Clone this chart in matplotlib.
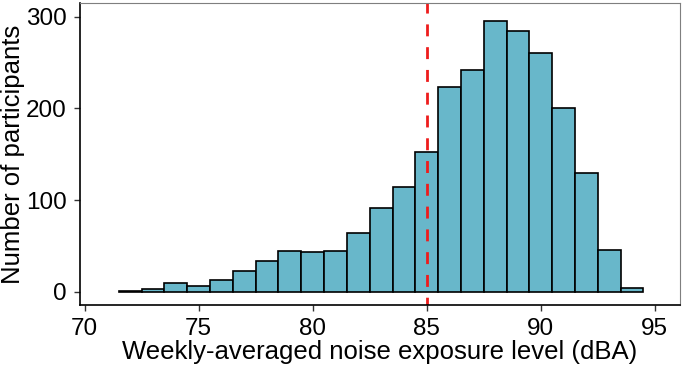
import numpy as np
import matplotlib.pyplot as plt

# histogram bins (dBA) and counts
bin_edges = np.arange(71.5, 95.0, 1.0)
counts = [1, 3, 10, 6, 13, 23, 34, 45, 43, 45, 64, 91, 114, 152,
          223, 242, 295, 284, 260, 201, 130, 46, 4]
threshold = 85

plt.rcParams['font.family'] = ['Liberation Sans', 'DejaVu Sans']

fig, ax = plt.subplots(figsize=(6.84, 3.69), dpi=100)
ax.bar(bin_edges[:-1], counts, width=np.diff(bin_edges), align='edge',
       color='#68b7ca', edgecolor='black', linewidth=1.2)
ax.axvline(threshold, color='#ee1c1c', linestyle=(1.5, (4.3, 3.9)), linewidth=2)

ax.set_xlim(69.8, 96.1)
ax.set_ylim(-14.5, 315)
ax.set_xticks([70, 75, 80, 85, 90, 95])
ax.set_yticks([0, 100, 200, 300])
ax.tick_params(labelsize=17.5, width=1, length=4, color='#333333', labelcolor='black')
ax.tick_params(axis='y', pad=5.5)
ax.tick_params(axis='x', pad=5)
ax.set_xlabel('Weekly-averaged noise exposure level (dBA)', fontsize=18.5, labelpad=0)
ax.set_ylabel('Number of participants', fontsize=18.5, labelpad=1)

for s in ['top', 'right']:
    ax.spines[s].set_color('#7f7f7f')
    ax.spines[s].set_linewidth(0.8)
for s in ['left', 'bottom']:
    ax.spines[s].set_color('black')
    ax.spines[s].set_linewidth(1.2)

fig.subplots_adjust(left=0.117, right=0.994, top=0.992, bottom=0.173)
fig.savefig('out.png')
